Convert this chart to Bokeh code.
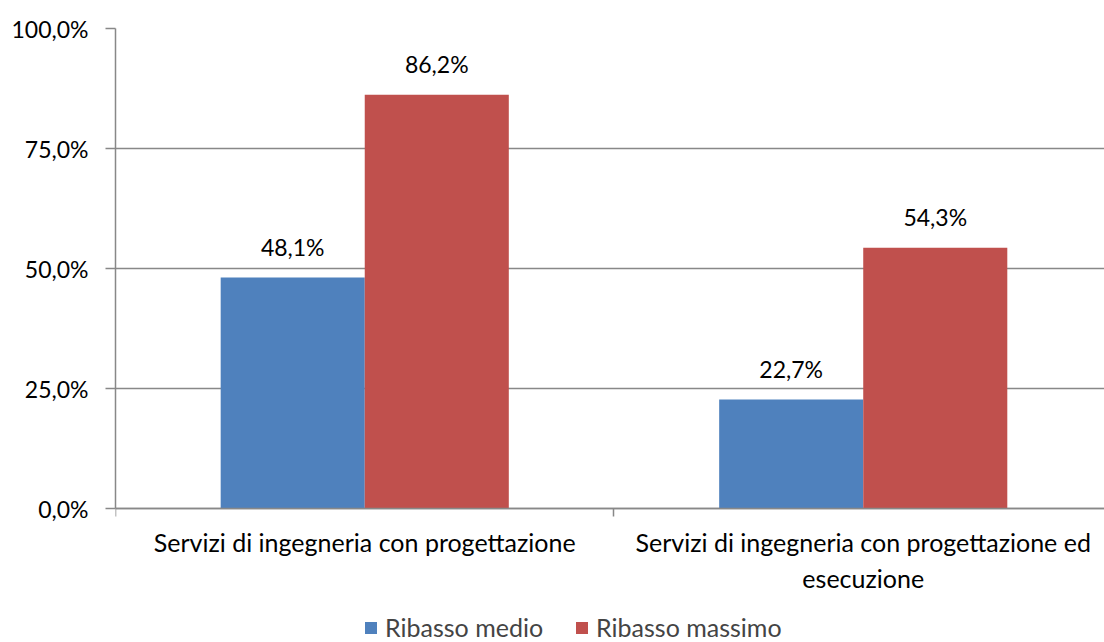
from bokeh.plotting import figure
from bokeh.models import ColumnDataSource, FixedTicker, Legend, LegendItem, Range1d
from bokeh.transform import dodge
from bokeh.embed import file_html
from bokeh.resources import INLINE
from bokeh.core.properties import value

categories = ["Servizi di ingegneria con progettazione",
              "Servizi di ingegneria con progettazione ed\nesecuzione"]
ribasso_medio = [48.1, 22.7]
ribasso_massimo = [86.2, 54.3]
y_ticks = [0, 25, 50, 75, 100]
y_tick_labels = ["0,0%", "25,0%", "50,0%", "75,0%", "100,0%"]
series_names = ["Ribasso medio", "Ribasso massimo"]
colors = ["#4F81BD", "#C0504D"]

FONT = "Lato"
NUM_SIZE = "23px"
TXT_SIZE = "25px"
centers = [i + 0.5 for i in range(len(categories))]


def fmt(v):
    return f"{v:.1f}".replace(".", ",") + "%"


src = ColumnDataSource(dict(
    x=centers,
    medio=ribasso_medio,
    massimo=ribasso_massimo,
    medio_lbl=[fmt(v) for v in ribasso_medio],
    massimo_lbl=[fmt(v) for v in ribasso_massimo],
))

# plot area: 480 px for 0..100 %, plus 134 px below zero for labels and legend
PLOT_H = 480
EXTRA_H = 134
y_min = -EXTRA_H / PLOT_H * 100

p = figure(frame_width=989, frame_height=PLOT_H + EXTRA_H,
           x_range=Range1d(0, 1.984), y_range=Range1d(y_min, 100),
           output_backend="svg", toolbar_location=None,
           min_border_left=115, min_border_right=0, min_border_top=28,
           min_border_bottom=0, outline_line_color=None,
           background_fill_color="white", border_fill_color="white")

bw = 0.289
off = bw / 2
r1 = p.vbar(x=dodge("x", -off, range=p.x_range), top="medio", width=bw,
            source=src, fill_color=colors[0], line_color=None)
r2 = p.vbar(x=dodge("x", off, range=p.x_range), top="massimo", width=bw,
            source=src, fill_color=colors[1], line_color=None)

p.text(x=dodge("x", -off, range=p.x_range), y="medio", text="medio_lbl", source=src,
       text_align="center", text_baseline="middle", y_offset=-31,
       text_font=value(FONT), text_font_size=NUM_SIZE, text_color="#000000")
p.text(x=dodge("x", off, range=p.x_range), y="massimo", text="massimo_lbl", source=src,
       text_align="center", text_baseline="middle", y_offset=-31,
       text_font=value(FONT), text_font_size=NUM_SIZE, text_color="#000000")

# axes
xa = p.xaxis[0]
xa.fixed_location = 0
xa.ticker = FixedTicker(ticks=centers, minor_ticks=[0, 1, 2])
xa.major_label_overrides = {c: lab for c, lab in zip(centers, categories)}
xa.major_tick_out = 0
xa.major_tick_in = 0
xa.minor_tick_out = 8
xa.minor_tick_in = 0
xa.minor_tick_line_color = "#888888"
xa.minor_tick_line_width = 1.5
xa.axis_line_color = "#888888"
xa.axis_line_width = 1.5
xa.major_label_standoff = 10
xa.major_label_text_font = FONT
xa.major_label_text_font_size = TXT_SIZE
xa.major_label_text_color = "#000000"

ya = p.yaxis[0]
ya.bounds = (0, 100)
ya.ticker = FixedTicker(ticks=y_ticks)
ya.major_label_overrides = {t: l for t, l in zip(y_ticks, y_tick_labels)}
ya.major_tick_out = 10
ya.major_tick_in = 0
ya.minor_tick_out = 0
ya.minor_tick_in = 0
ya.major_tick_line_color = "#888888"
ya.major_tick_line_width = 1.5
ya.axis_line_color = "#888888"
ya.axis_line_width = 1.5
ya.major_label_standoff = 17
ya.major_label_text_font = FONT
ya.major_label_text_font_size = NUM_SIZE
ya.major_label_text_color = "#000000"

p.xgrid.visible = False
p.ygrid.ticker = FixedTicker(ticks=y_ticks)
p.ygrid.grid_line_color = "#888888"
p.ygrid.grid_line_width = 1.5

legend = Legend(items=[LegendItem(label=series_names[0], renderers=[r1]),
                       LegendItem(label=series_names[1], renderers=[r2])],
                orientation="horizontal", location=(248, 0),
                label_text_font=FONT, label_text_font_size=TXT_SIZE,
                glyph_width=15, glyph_height=15, label_height=20,
                label_standoff=7, spacing=31,
                border_line_color=None, background_fill_alpha=0,
                margin=0, padding=0)
p.add_layout(legend, "center")

open("out.html", "w").write(file_html(p, INLINE))
